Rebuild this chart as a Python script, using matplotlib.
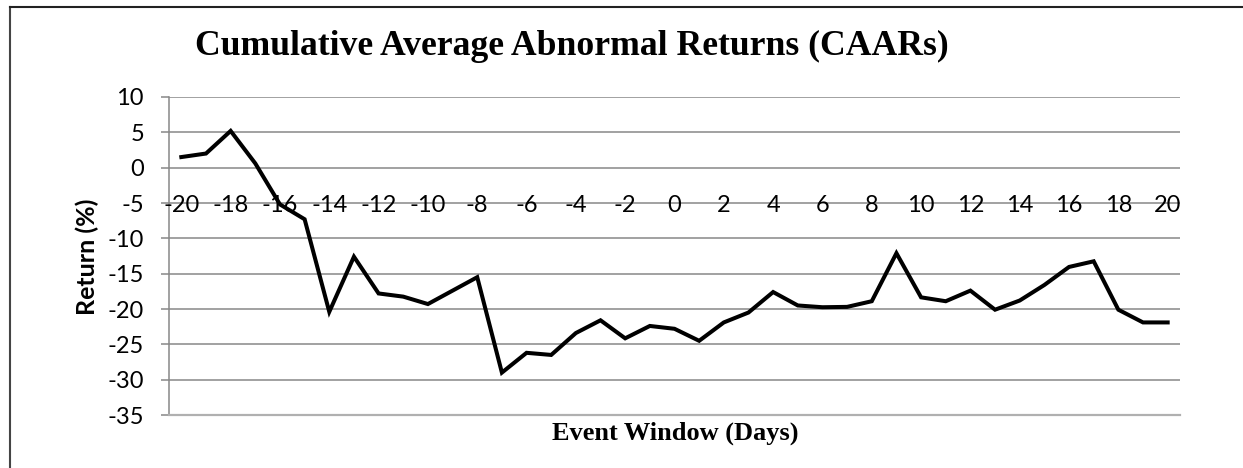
import matplotlib
matplotlib.use("Agg")
import matplotlib.pyplot as plt
from matplotlib.lines import Line2D

days = list(range(-20, 21))
caar = [1.5, 2.0, 5.2, 0.6, -5.2, -7.3, -20.4, -12.6, -17.8, -18.25,
        -19.3, -17.4, -15.5, -29.0, -26.2, -26.5, -23.4, -21.6, -24.15, -22.4,
        -22.8, -24.5, -21.9, -20.5, -17.6, -19.5, -19.75, -19.7, -18.9, -12.1,
        -18.35, -18.9, -17.4, -20.1, -18.8, -16.6, -14.05, -13.25, -20.1, -21.9,
        -21.9]
x_tick_labels = [str(v) for v in range(-20, 21, 2)]
y_ticks = list(range(-35, 11, 5))

title = "Cumulative Average Abnormal Returns (CAARs)"
xlabel = "Event Window (Days)"
ylabel = "Return (%)"

fig = plt.figure(figsize=(12.43, 4.68), dpi=100)
ax = fig.add_axes([169/1243, 53/468, (1180-169)/1243, (415-97)/468])

ax.plot(days, caar, color="black", lw=2.9, solid_joinstyle="miter")

ax.set_xlim(-20.5, 20.5)
ax.set_ylim(-35, 10)
ax.set_yticks(y_ticks)
ax.set_yticklabels([str(v) for v in y_ticks], fontfamily="Lato", fontsize=17)
ax.set_xticks([])
ax.grid(axis="y", color="#888888", lw=1.1)
ax.set_axisbelow(True)
for s in ["top", "right"]:
    ax.spines[s].set_visible(False)
ax.spines["left"].set_color("#888888")
ax.spines["left"].set_linewidth(1.1)
ax.spines["bottom"].set_color("#b0b0b0")
ax.spines["bottom"].set_linewidth(1.6)
ax.tick_params(axis="y", length=6, color="#888888", width=1.1, pad=12)

for v, lab in zip(range(-20, 21, 2), x_tick_labels):
    ax.text(v, -5, lab, ha="center", va="center_baseline", fontfamily="Lato",
            fontsize=17, color="black")

fig.text(572/1243, 1 - 46/468, title, ha="center", va="center",
         fontfamily="Liberation Serif", fontweight="bold", fontsize=25.7)
fig.text(675/1243, 1 - 433/468, xlabel, ha="center", va="center",
         fontfamily="Liberation Serif", fontweight="bold", fontsize=19)
fig.text(87/1243, 1 - 257/468, ylabel, ha="center", va="center", rotation=90,
         fontfamily="Lato", fontweight="bold", fontsize=18)

# chart-area border (left and top visible)
fig.add_artist(Line2D([10/1243, 10/1243], [0, 1 - 7/468], transform=fig.transFigure,
                      color="#444444", lw=1.5))
fig.add_artist(Line2D([10/1243, 1], [1 - 7/468, 1 - 7/468], transform=fig.transFigure,
                      color="#222222", lw=1.5))

fig.savefig("out.png", dpi=100)
